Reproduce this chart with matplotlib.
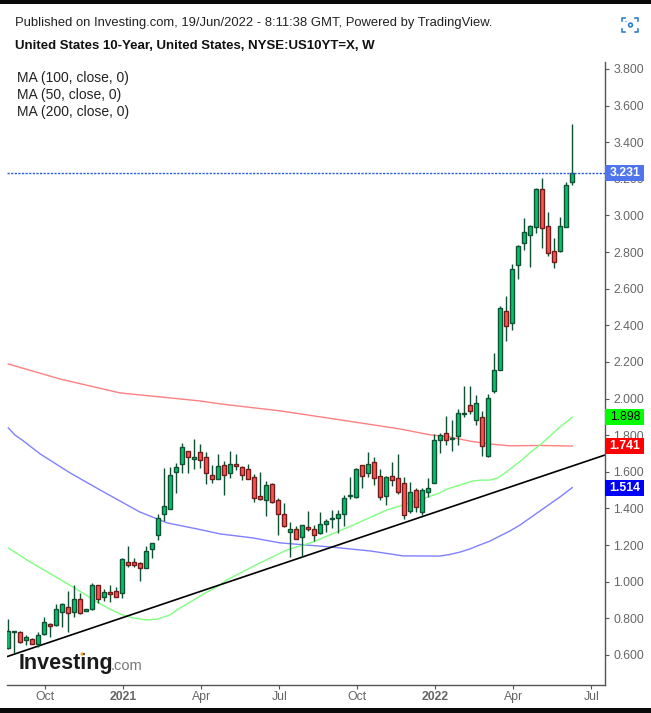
# weekly candles of the US 10-year yield, investing.com style
import matplotlib
matplotlib.use("Agg")
import matplotlib.pyplot as plt
from matplotlib.patches import Rectangle, Circle

opens = [0.636, 0.727, 0.724, 0.680, 0.685, 0.662, 0.716, 0.767, 0.762, 0.833,
         0.860, 0.833, 0.904, 0.838, 0.849, 0.980, 0.915, 0.942, 0.947, 0.937,
         1.110, 1.106, 1.100, 1.077, 1.177, 1.253, 1.368, 1.399, 1.601, 1.641,
         1.712, 1.672, 1.706, 1.679, 1.581, 1.563, 1.635, 1.592, 1.641, 1.624,
         1.614, 1.570, 1.466, 1.444, 1.532, 1.444, 1.368, 1.274, 1.286, 1.243,
         1.301, 1.290, 1.265, 1.314, 1.341, 1.346, 1.368, 1.470, 1.465, 1.636,
         1.592, 1.652, 1.580, 1.467, 1.580, 1.565, 1.538, 1.385, 1.499, 1.379,
         1.489, 1.537, 1.772, 1.810, 1.780, 1.794, 1.916, 1.967, 1.881, 1.898,
         1.685, 2.040, 2.154, 2.476, 2.411, 2.728, 2.848, 2.892, 2.936, 3.143,
         2.941, 2.808, 2.808, 2.936, 3.181]
closes = [0.729, 0.729, 0.673, 0.700, 0.662, 0.707, 0.782, 0.756, 0.849, 0.877,
          0.827, 0.904, 0.827, 0.849, 0.980, 0.904, 0.946, 0.931, 0.918, 1.122,
          1.089, 1.089, 1.073, 1.170, 1.213, 1.346, 1.412, 1.581, 1.628, 1.734,
          1.679, 1.679, 1.666, 1.595, 1.563, 1.630, 1.581, 1.641, 1.630, 1.584,
          1.559, 1.455, 1.450, 1.526, 1.433, 1.368, 1.303, 1.286, 1.232, 1.308,
          1.286, 1.257, 1.314, 1.330, 1.348, 1.368, 1.456, 1.473, 1.614, 1.576,
          1.641, 1.565, 1.461, 1.574, 1.554, 1.489, 1.363, 1.489, 1.410, 1.499,
          1.514, 1.772, 1.799, 1.772, 1.784, 1.919, 1.919, 1.930, 1.974, 1.739,
          2.001, 2.154, 2.493, 2.395, 2.706, 2.832, 2.908, 2.941, 3.143, 2.930,
          2.794, 2.744, 2.941, 3.165, 3.231]
highs = [0.795, 0.730, 0.729, 0.709, 0.691, 0.724, 0.805, 0.776, 0.878, 0.884,
         0.949, 0.982, 0.937, 0.849, 0.993, 0.980, 0.960, 0.982, 0.971, 1.130,
         1.195, 1.130, 1.110, 1.195, 1.213, 1.370, 1.621, 1.628, 1.647, 1.756,
         1.712, 1.779, 1.752, 1.706, 1.635, 1.697, 1.657, 1.712, 1.697, 1.630,
         1.643, 1.586, 1.597, 1.550, 1.537, 1.455, 1.428, 1.325, 1.305, 1.308,
         1.387, 1.308, 1.381, 1.341, 1.392, 1.392, 1.472, 1.572, 1.621, 1.636,
         1.709, 1.680, 1.614, 1.578, 1.652, 1.698, 1.570, 1.543, 1.510, 1.510,
         1.567, 1.805, 1.810, 1.903, 1.883, 1.941, 2.069, 2.069, 2.018, 1.932,
         2.025, 2.247, 2.506, 2.560, 2.735, 2.839, 2.987, 2.948, 3.150, 3.205,
         3.018, 2.877, 2.992, 3.181, 3.500]
lows = [0.631, 0.609, 0.667, 0.654, 0.658, 0.645, 0.711, 0.700, 0.758, 0.755,
        0.727, 0.809, 0.824, 0.838, 0.846, 0.882, 0.895, 0.889, 0.918, 0.913,
        1.082, 1.082, 1.006, 1.073, 1.131, 1.230, 1.333, 1.395, 1.483, 1.595,
        1.595, 1.617, 1.623, 1.535, 1.541, 1.563, 1.475, 1.568, 1.610, 1.555,
        1.559, 1.437, 1.446, 1.361, 1.428, 1.257, 1.301, 1.137, 1.232, 1.133,
        1.279, 1.225, 1.261, 1.274, 1.296, 1.268, 1.306, 1.450, 1.459, 1.514,
        1.574, 1.530, 1.447, 1.421, 1.523, 1.479, 1.345, 1.377, 1.381, 1.363,
        1.465, 1.537, 1.701, 1.745, 1.716, 1.748, 1.901, 1.916, 1.854, 1.688,
        1.679, 2.032, 2.154, 2.316, 2.375, 2.655, 2.814, 2.721, 2.906, 2.825,
        2.781, 2.712, 2.803, 2.936, 3.165]

# moving averages at a handful of weeks
ma200_x = [0, 8.6, 18.6, 32, 35.3, 45.3, 57.5, 65.3, 70.3, 73.6, 76.9, 80.3, 83.6, 88.6, 94]
ma200_y = [2.189, 2.107, 2.031, 1.987, 1.971, 1.933, 1.873, 1.834, 1.802, 1.790, 1.768, 1.752, 1.742, 1.744, 1.741]
ma100_x = [0, 1.1, 2.3, 5.3, 10.3, 15.3, 21.9, 26.5, 31.5, 35.3, 40.8, 45.3, 53.6, 60.3, 65.8, 71.9, 73.6, 75.3, 76.95,
           78.6, 80.3, 81.95, 83.6, 85.3, 86.95, 88.6, 90.3, 91.95, 94]
ma100_y = [1.840, 1.801, 1.774, 1.698, 1.594, 1.501, 1.381, 1.321, 1.288, 1.261, 1.239, 1.212, 1.190, 1.168, 1.141, 1.140, 1.149, 1.162, 1.179,
           1.201, 1.222, 1.250, 1.277, 1.310, 1.348, 1.386, 1.425, 1.463, 1.514]
ma50_x = [0, 3.1, 6.5, 10.8, 14.8, 16.6, 18.6, 20.8, 23.1, 24.9, 26.9, 28.6, 30.3, 32.8, 35.3, 36.4, 41.9, 46.4, 50.8,
          57.5, 63.1, 68.6, 71.9, 73.1, 75.3, 77.4, 78.9, 80.3, 81.5, 82.8, 84.1, 85.6, 86.9, 88.6, 90.3, 91.95, 94]
ma50_y = [1.184, 1.119, 1.053, 0.971, 0.889, 0.856, 0.824, 0.802, 0.791, 0.796, 0.818, 0.856, 0.889, 0.938, 0.982, 1.010, 1.102, 1.173, 1.217,
          1.310, 1.392, 1.447, 1.485, 1.506, 1.528, 1.550, 1.555, 1.555, 1.566, 1.594, 1.627, 1.665, 1.703, 1.747, 1.796, 1.845, 1.898]

trend_x = [-0.217, 99.45]
trend_y = [0.591, 1.692]

month_pos = [6.17, 19.17, 32.17, 45.17, 58.17, 71.17, 84.17, 97.17]
month_labels = ["Oct", "2021", "Apr", "Jul", "Oct", "2022", "Apr", "Jul"]
price_ticks = [0.6, 0.8, 1.0, 1.2, 1.4, 1.6, 1.8, 2.0, 2.2, 2.4, 2.6, 2.8, 3.0, 3.2, 3.4, 3.6, 3.8]
ma_text = ["MA (100, close, 0)", "MA (50, close, 0)", "MA (200, close, 0)"]

last_price = 3.231
badges = [(1.898, "#00ff00", "black"), (1.741, "#ff0000", "white"), (1.514, "#0000ff", "white")]

W, H = 651, 713
plt.rcParams["font.family"] = ["Liberation Sans", "DejaVu Sans"]
fig = plt.figure(figsize=(W / 100, H / 100), dpi=100, facecolor="white")

# axes box in pixels: x 7..605, y 62..685
ax = fig.add_axes([7 / W, 1 - 685 / H, 598 / W, 623 / H])
ax.set_xlim(-0.217, 99.45)
ax.set_ylim(0.436, 3.838)

ax.plot(ma200_x, ma200_y, color="#ff8080", lw=1.0, zorder=2)
ax.plot(ma100_x, ma100_y, color="#8080ff", lw=1.0, zorder=2)
ax.plot(ma50_x, ma50_y, color="#80ff80", lw=1.0, zorder=2)
ax.plot(trend_x, trend_y, color="black", lw=1.2, zorder=2.5, solid_capstyle="butt")

for i in range(len(opens)):
    up = closes[i] >= opens[i]
    edge = "#0f5132" if up else "#701c1c"
    fill = "#0abf6b" if up else "#f9564f"
    # wicks are dark green on both kinds of candle
    ax.plot([i, i], [lows[i], highs[i]], color="#0f5132", lw=1.0, zorder=3, solid_capstyle="butt")
    bottom = min(opens[i], closes[i])
    ax.add_patch(Rectangle((i - 0.33, bottom), 0.66, abs(closes[i] - opens[i]),
                           facecolor=fill, edgecolor=edge, lw=1.0, zorder=4))

ax.axhline(last_price, color="#2a5bdc", lw=1.0, ls=(0, (1.6, 1.0)), zorder=5)

for s in ["top", "left"]:
    ax.spines[s].set_visible(False)
for s in ["right", "bottom"]:
    ax.spines[s].set_color("#555555")
    ax.spines[s].set_linewidth(1.0)

ax.yaxis.tick_right()
ax.set_yticks(price_ticks)
ax.set_yticklabels(["%.3f" % p for p in price_ticks])
ax.tick_params(axis="y", length=3, width=0.8, color="#555555", labelcolor="#666666", labelsize=8.8, pad=3)
ax.set_xticks(month_pos)
ax.set_xticklabels(month_labels)
ax.tick_params(axis="x", length=3, width=0.8, color="#555555", labelcolor="#666666", labelsize=8.8, pad=1.5)
for lab in ax.get_xticklabels():
    if lab.get_text() in ("2021", "2022"):
        lab.set_fontweight("bold")


def px(x, y):
    return x / W, 1 - y / H


# coloured price badges on the scale
def badge(value, bg, fg):
    yc = 655 - (value - 0.6) * 183.1
    fig.patches.append(Rectangle(px(605, yc + 8), 39 / W, 16 / H, transform=fig.transFigure,
                                 facecolor=bg, edgecolor="none", zorder=6))
    fig.text(*px(625, yc), "%.3f" % value, color=fg, fontsize=8.8, fontweight="bold" if fg == "white" else "normal",
             ha="center", va="center", zorder=7)


badge(last_price, "#4f74ec", "white")
for val, bg, fg in badges:
    badge(val, bg, fg)

# black strips at the image edge
fig.patches.append(Rectangle(px(0, 4), 1, 4 / H, transform=fig.transFigure, facecolor="#0a0a0a", edgecolor="none"))
fig.patches.append(Rectangle(px(0, 713), 1, 5 / H, transform=fig.transFigure, facecolor="#0a0a0a", edgecolor="none"))

fig.text(*px(15, 23), "Published on Investing.com, 19/Jun/2022 - 8:11:38 GMT, Powered by TradingView.",
         fontsize=9.35, color="#222222", va="center")
fig.text(*px(15, 46), "United States 10-Year, United States, NYSE:US10YT=X, W",
         fontsize=9.5, fontweight="bold", color="#111111", va="center")
for k, t in enumerate(ma_text):
    fig.text(*px(17, 78 + 17 * k), t, fontsize=10, color="#222222", va="center")

# logo
fig.text(*px(19, 663), "Investing", fontsize=15.5, fontweight="bold", color="#1a1a1a", va="center", zorder=8)
fig.text(*px(111, 666), ".com", fontsize=10.5, color="#777777", va="center", zorder=8)
fig.patches.append(Circle(px(82, 654), 1.5 / W, transform=fig.transFigure, facecolor="#f5a623", edgecolor="none", zorder=9))

# camera icon, top right
icon = fig.add_axes([620 / W, 1 - 35 / H, 20 / W, 20 / H])
icon.set_xlim(0, 20)
icon.set_ylim(20, 0)
icon.axis("off")
blue = "#2f7fd1"
for xs, ys in [([2, 2, 5], [6, 3, 3]), ([15, 18, 18], [3, 3, 6]),
               ([2, 2, 5], [14, 17, 17]), ([15, 18, 18], [17, 17, 14])]:
    icon.plot(xs, ys, color=blue, lw=1.2)
icon.add_patch(Circle((10.5, 10), 1.9, facecolor="none", edgecolor=blue, lw=1.2))
icon.add_patch(Circle((6, 6.5), 0.6, facecolor=blue, edgecolor="none"))

fig.savefig("out.png", dpi=100, facecolor="white")
